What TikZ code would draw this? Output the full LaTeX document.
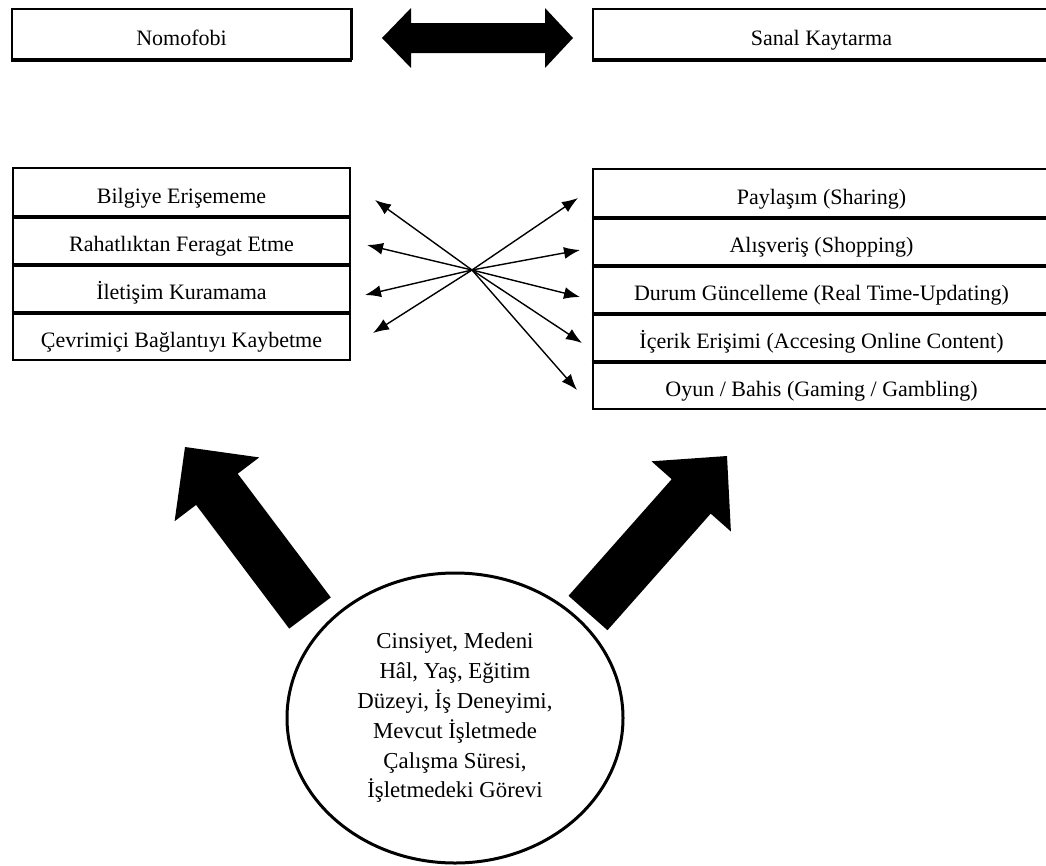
\documentclass[tikz,border=0pt]{standalone}
\usepackage{fontspec}
\setmainfont{Liberation Serif}
\usetikzlibrary{arrows.meta,calc,shapes.geometric}
\begin{document}
\begin{tikzpicture}[x=1pt,y=-1pt,
  txt/.style={font=\fontsize{22}{26}\selectfont, text height=22pt, text depth=0pt},
  topbox/.style={draw, line width=1.8pt, txt, minimum height=50pt, inner sep=0pt},
  rowbox/.style={draw, line width=2.6pt, txt, minimum height=48pt, inner sep=0pt},
  thinarrow/.style={line width=1.4pt, -{Latex[length=16pt,width=12pt]}},
  bigarrow/.style={fill=black, draw=none},
  oval/.style={draw, ellipse, line width=3pt, minimum width=336pt, minimum height=290pt, inner sep=0pt,
     align=center, font=\fontsize{22.8}{29.8}\selectfont}
]
\useasboundingbox (0,0) rectangle (1046,865);
\fill[white] (0,0) rectangle (1046,865);

% top boxes
\node[topbox, minimum width=339pt] (nomo) at (181.5,34) {Nomofobi};
\node[topbox, minimum width=457pt] (sanal) at (821.5,34) {Sanal Kaytarma};
\draw[line width=4.5pt] (nomo.south west) -- (nomo.south east);
\draw[line width=3pt] (nomo.south east) -- (nomo.north east);
\draw[line width=4.5pt] (sanal.south west) -- (sanal.south east);

% double arrow between top boxes
\fill[bigarrow] (382,38) -- (411,8) -- (411,23) -- (545,23) -- (545,8) -- (573,38)
  -- (545,68) -- (545,53) -- (411,53) -- (411,68) -- cycle;

% left column
\node[rowbox, minimum width=337pt] (l1) at (181.5,192) {Bilgiye Erişememe};
\node[rowbox, minimum width=337pt] (l2) at (181.5,240) {Rahatlıktan Feragat Etme};
\node[rowbox, minimum width=337pt] (l3) at (181.5,288) {İletişim Kuramama};
\node[rowbox, minimum width=337pt] (l4) at (181.5,336) {Çevrimiçi Bağlantıyı Kaybetme};
\foreach \n in {l1,l2,l3}{\draw[line width=4pt] (\n.south west) -- (\n.south east);}

% right column
\node[rowbox, minimum width=457pt] (r1) at (821.5,193) {Paylaşım (Sharing)};
\node[rowbox, minimum width=457pt] (r2) at (821.5,241) {Alışveriş (Shopping)};
\node[rowbox, minimum width=457pt] (r3) at (821.5,289) {Durum Güncelleme (Real Time-Updating)};
\node[rowbox, minimum width=457pt] (r4) at (821.5,337) {İçerik Erişimi (Accesing Online Content)};
\node[rowbox, minimum width=457pt] (r5) at (821.5,385) {Oyun / Bahis (Gaming / Gambling)};
\foreach \n in {r1,r2,r3,r4}{\draw[line width=4pt] (\n.south west) -- (\n.south east);}

% thin arrows from hub
\coordinate (hub) at (472,270);
\coordinate (tl1) at (375,200);
\coordinate (tl2) at (367,245);
\coordinate (tl3) at (365,295);
\coordinate (tl4) at (373,333);
\coordinate (tr1) at (578,198);
\coordinate (tr2) at (580,250);
\coordinate (tr3) at (580,297);
\coordinate (tr4) at (582,343);
\coordinate (tr5) at (577,390);
\foreach \t in {tl1,tl2,tl3,tl4,tr1,tr2,tr3,tr4,tr5}{\draw[thinarrow] (hub) -- (\t);}

% ellipse
\node[oval] (dem) at (455,718) {Cinsiyet, Medeni\\Hâl, Yaş, Eğitim\\Düzeyi, İş Deneyimi,\\Mevcut İşletmede\\Çalışma Süresi,\\İşletmedeki Görevi};

% big arrows
\fill[bigarrow] (330.8,597.4) -- (237.7,473.7) -- (259.2,457.4) -- (185,447) -- (174.6,521.2)
  -- (196.1,504.9) -- (289.2,628.6) -- cycle;
\fill[bigarrow] (607.5,630.2) -- (710.7,513.6) -- (730.9,531.5) -- (727,456) -- (651.5,461.3)
  -- (671.7,479.2) -- (568.5,595.8) -- cycle;
\end{tikzpicture}
\end{document}
